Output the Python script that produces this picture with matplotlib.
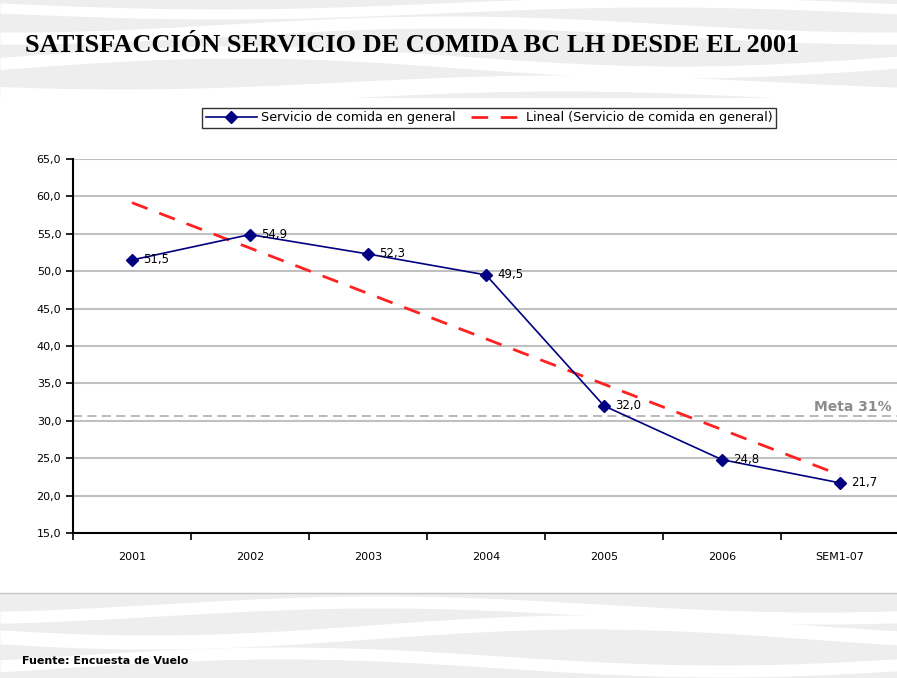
import numpy as np
import matplotlib
matplotlib.use("Agg")
import matplotlib.pyplot as plt
from matplotlib.ticker import FuncFormatter, FixedLocator

categories = ["2001", "2002", "2003", "2004", "2005", "2006", "SEM1-07"]
values = [51.5, 54.9, 52.3, 49.5, 32.0, 24.8, 21.7]
value_labels = ["51,5", "54,9", "52,3", "49,5", "32,0", "24,8", "21,7"]
meta_value = 30.6
meta_label = "Meta 31%"
title = "SATISFACCIÓN SERVICIO DE COMIDA BC LH DESDE EL 2001"
series_name = "Servicio de comida en general"
trend_name = "Lineal (Servicio de comida en general)"
source = "Fuente: Encuesta de Vuelo"

W, H = 897, 678
fig = plt.figure(figsize=(W / 100, H / 100), dpi=100)

# decorative background
bg = fig.add_axes([0, 0, 1, 1], zorder=-10)
bg.set_xlim(0, W)
bg.set_ylim(H, 0)
bg.axis("off")
gray = "#eeeeee"
bg.fill_between([0, W], 0, 98, color=gray, lw=0)
bg.fill_between([0, W], 594, H, color=gray, lw=0)
xs = np.linspace(0, W, 300)
for y0, amp, ph, th in [(8, 6, 0.0, 5), (30, 8, 1.5, 6), (62, 10, 3.0, 6), (90, 7, 0.7, 8),
                         (610, 8, 2.0, 6), (632, 10, 0.5, 7), (662, 9, 2.7, 6)]:
    yy = y0 + amp * np.sin(xs / 140.0 + ph)
    bg.fill_between(xs, yy - th, yy + th, color="white", lw=0)
bg.plot([0, W], [593, 593], color="#c8c8c8", lw=1)

ax = fig.add_axes([73 / W, 1 - 533 / H, 826 / W, 374 / H])
x = np.arange(len(categories))
ax.set_xlim(-0.5, len(categories) - 0.5)
ax.set_ylim(15, 65)
ax.set_yticks(np.arange(15, 66, 5))
ax.yaxis.set_major_formatter(FuncFormatter(lambda v, p: f"{v:.1f}".replace(".", ",")))
ax.set_xticks(x)
ax.set_xticklabels(categories)
ax.xaxis.set_minor_locator(FixedLocator(np.arange(-0.5, len(categories), 1.0)))
ax.tick_params(axis="x", which="major", length=0, pad=14, labelsize=8)
ax.tick_params(axis="x", which="minor", length=5, width=1.2, color="black", direction="out")
ax.tick_params(axis="y", length=5, width=1.2, direction="out", labelsize=8)
for s in ["top", "right"]:
    ax.spines[s].set_visible(False)
for s in ["left", "bottom"]:
    ax.spines[s].set_linewidth(1.5)
ax.grid(axis="y", color="#c0c0c0", lw=1.5)
ax.set_axisbelow(True)
ax.patch.set_alpha(0)

ax.axhline(meta_value, color="#b4b4b4", lw=1.3, ls=(0, (5, 3)), zorder=1)
ax.text(5.78, meta_value + 1.3, meta_label, color="#8c8c8c", fontsize=10,
        fontweight="bold", va="center", ha="left")

coef = np.polyfit(x, values, 1)
trend = np.polyval(coef, x)
ln_trend, = ax.plot(x, trend, color="#ff2020", lw=2, ls=(0, (6, 4.5)), zorder=3, label=trend_name)
ln, = ax.plot(x, values, color="#000080", lw=1.2, marker="D", ms=6.5, zorder=4, label=series_name)
for xi, v, lab in zip(x, values, value_labels):
    ax.annotate(lab, (xi, v), xytext=(8, 0), textcoords="offset points",
                fontsize=8.5, va="center", ha="left", color="black", zorder=5)

leg = fig.legend(handles=[ln, ln_trend], labels=[series_name, trend_name],
                 loc="center", bbox_to_anchor=(489 / W, 1 - 118 / H), ncol=2,
                 fontsize=9.2, frameon=True, fancybox=False, edgecolor="black",
                 handlelength=4, columnspacing=1.2, borderpad=0.3, handletextpad=0.3)
leg.get_frame().set_linewidth(1.0)

fig.text(25 / W, 1 - 45 / H, title, family="Liberation Serif", fontweight="bold",
         fontsize=19, va="center", ha="left")
fig.text(22 / W, 1 - 661 / H, source, fontsize=8, fontweight="bold", va="center", ha="left")

fig.savefig("out.png", dpi=100)
